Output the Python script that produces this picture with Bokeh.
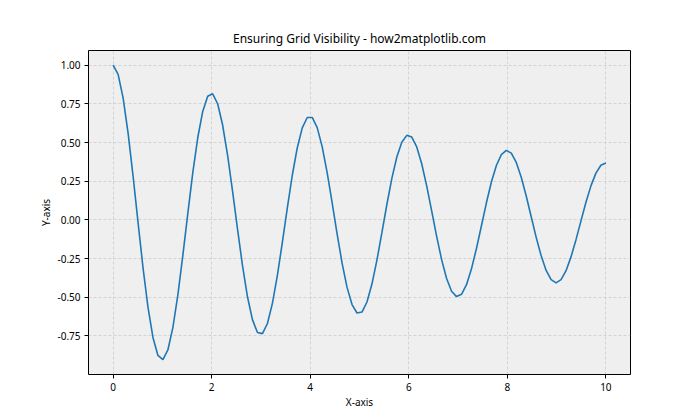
import numpy as np
from bokeh.plotting import figure
from bokeh.models import Range1d, FixedTicker
from bokeh.embed import file_html
from bokeh.resources import INLINE

x_values = np.linspace(0, 10, 100)
y_values = [
    1.0000, 0.9406, 0.7892, 0.5628, 0.2852, -0.0151, -0.3079, -0.5643, -0.7598, -0.8761,
    -0.9035, -0.8409, -0.6963, -0.4858, -0.2314, 0.0409, 0.3036, 0.5310, 0.7014, 0.7989,
    0.8154, 0.7509, 0.6134, 0.4179, 0.1850, -0.0615, -0.2971, -0.4985, -0.6466, -0.7277,
    -0.7352, -0.6698, -0.5394, -0.3582, -0.1453, 0.0778, 0.2887, 0.4668, 0.5952, 0.6621,
    0.6622, 0.5967, 0.4735, 0.3059, 0.1114, -0.0903, -0.2789, -0.4363, -0.5472, -0.6018,
    -0.5957, -0.5309, -0.4148, -0.2599, -0.0825, 0.0996, 0.2682, 0.4069, 0.5026, 0.5466,
    0.5356, 0.4719, 0.3628, 0.2199, 0.0581, -0.1062, -0.2567, -0.3788, -0.4609, -0.4958,
    -0.4809, -0.4188, -0.3164, -0.1848, -0.0376, 0.1105, 0.2447, 0.3519, 0.4222, 0.4493,
    0.4314, 0.3712, 0.2754, 0.1543, 0.0203, -0.1129, -0.2323, -0.3264, -0.3863, -0.4067,
    -0.3865, -0.3285, -0.2391, -0.1278, -0.0061, 0.1138, 0.2200, 0.3023, 0.3530, 0.3679,
]
x_ticks = [0, 2, 4, 6, 8, 10]
y_ticks = [-0.75, -0.5, -0.25, 0.0, 0.25, 0.5, 0.75, 1.0]
y_tick_labels = {-0.75: "-0.75", -0.5: "-0.50", -0.25: "-0.25", 0.0: "0.00",
                 0.25: "0.25", 0.5: "0.50", 0.75: "0.75", 1.0: "1.00"}
title_text = "Ensuring Grid Visibility - how2matplotlib.com"

FONT = "Noto Sans"

p = figure(width=700, height=420, output_backend="svg", toolbar_location=None,
           x_range=Range1d(-0.5, 10.5), y_range=Range1d(-0.9995, 1.0952),
           min_border_left=88, min_border_right=70, min_border_top=50, min_border_bottom=46,
           title=title_text)

p.title.align = "center"
p.title.text_font = FONT
p.title.text_font_size = "12px"
p.title.text_font_style = "normal"
p.title.text_color = "#000000"
p.title.standoff = 7

p.background_fill_color = "#efefef"
p.border_fill_color = "#ffffff"
p.outline_line_color = "#000000"
p.outline_line_width = 1

p.line(x_values, y_values, line_color="#1f77b4", line_width=1.6)

for ax in (p.xaxis[0], p.yaxis[0]):
    ax.axis_line_color = None
    ax.major_tick_line_color = "#000000"
    ax.major_tick_out = 4
    ax.major_tick_in = 0
    ax.minor_tick_line_color = None
    ax.major_label_text_font = FONT
    ax.major_label_text_font_size = "10px"
    ax.major_label_text_color = "#000000"
    ax.axis_label_text_font = FONT
    ax.axis_label_text_font_size = "10px"
    ax.axis_label_text_font_style = "normal"
    ax.axis_label_text_color = "#000000"
    ax.major_label_standoff = 4

p.xaxis[0].ticker = FixedTicker(ticks=x_ticks)
p.yaxis[0].ticker = FixedTicker(ticks=y_ticks)
p.yaxis[0].major_label_overrides = y_tick_labels
p.xaxis[0].axis_label = "X-axis"
p.yaxis[0].axis_label = "Y-axis"
p.xaxis[0].axis_label_standoff = 1
p.yaxis[0].axis_label_standoff = 1

for g in (p.xgrid[0], p.ygrid[0]):
    g.grid_line_color = "#c8c8c8"
    g.grid_line_alpha = 0.7
    g.grid_line_dash = "3 2"
    g.grid_line_width = 1
p.xgrid[0].ticker = FixedTicker(ticks=x_ticks)
p.ygrid[0].ticker = FixedTicker(ticks=y_ticks)

open("out.html", "w").write(file_html(p, INLINE))
